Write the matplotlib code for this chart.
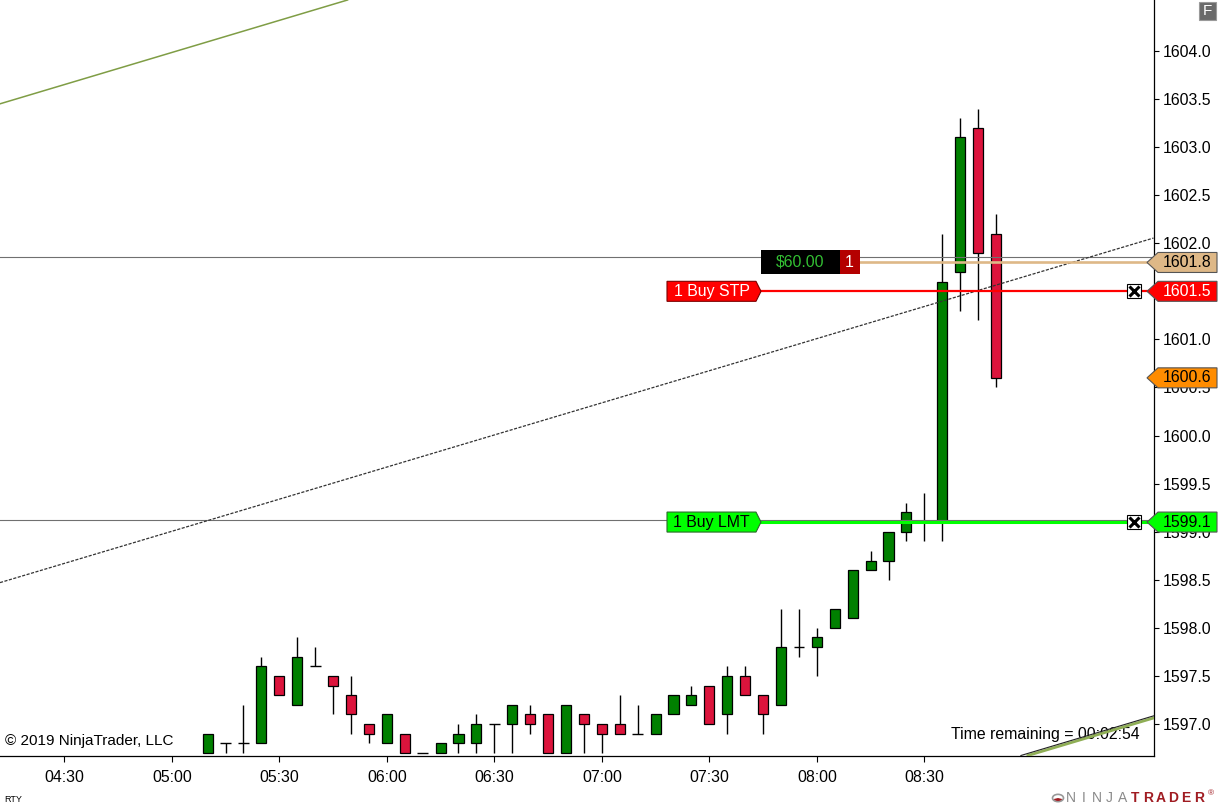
import numpy as np
import matplotlib
matplotlib.use("Agg")
import matplotlib.pyplot as plt
from matplotlib.patches import Polygon, Rectangle, Circle, Wedge
from matplotlib.transforms import blended_transform_factory

plt.rcParams['font.family'] = ['Liberation Sans', 'DejaVu Sans']

# 5 minute bars (RTY)
bar_times = ["05:10", "05:15", "05:20", "05:25", "05:30", "05:35", "05:40", "05:45", "05:50", "05:55",
             "06:00", "06:05", "06:10", "06:15", "06:20", "06:25", "06:30", "06:35", "06:40", "06:45",
             "06:50", "06:55", "07:00", "07:05", "07:10", "07:15", "07:20", "07:25", "07:30", "07:35",
             "07:40", "07:45", "07:50", "07:55", "08:00", "08:05", "08:10", "08:15", "08:20", "08:25",
             "08:30", "08:35", "08:40", "08:45", "08:50"]
opens = [1596.7, 1596.8, 1596.8, 1596.8, 1597.5, 1597.2, 1597.6, 1597.5, 1597.3, 1597.0,
         1596.8, 1596.9, 1596.7, 1596.7, 1596.8, 1596.8, 1597.0, 1597.0, 1597.1, 1597.1,
         1596.7, 1597.1, 1597.0, 1597.0, 1596.9, 1596.9, 1597.1, 1597.2, 1597.4, 1597.1,
         1597.5, 1597.3, 1597.2, 1597.8, 1597.8, 1598.0, 1598.1, 1598.6, 1598.7, 1599.0,
         1599.1, 1599.1, 1601.7, 1603.2, 1602.1]
highs = [1596.9, 1596.8, 1597.2, 1597.7, 1597.5, 1597.9, 1597.8, 1597.5, 1597.5, 1597.0,
         1597.1, 1596.9, 1596.7, 1596.8, 1597.0, 1597.1, 1597.0, 1597.2, 1597.2, 1597.1,
         1597.2, 1597.1, 1597.0, 1597.3, 1597.2, 1597.1, 1597.3, 1597.4, 1597.4, 1597.6,
         1597.6, 1597.3, 1598.2, 1598.2, 1598.0, 1598.2, 1598.6, 1598.8, 1599.0, 1599.3,
         1599.4, 1602.1, 1603.3, 1603.4, 1602.3]
lows = [1596.7, 1596.7, 1596.7, 1596.8, 1597.3, 1597.2, 1597.6, 1597.1, 1596.9, 1596.8,
        1596.8, 1596.7, 1596.7, 1596.7, 1596.7, 1596.7, 1596.7, 1596.7, 1596.9, 1596.7,
        1596.7, 1596.7, 1596.7, 1596.9, 1596.9, 1596.9, 1597.1, 1597.2, 1597.0, 1596.9,
        1597.3, 1596.9, 1597.2, 1597.7, 1597.5, 1598.0, 1598.1, 1598.6, 1598.5, 1598.9,
        1598.9, 1598.9, 1601.3, 1601.2, 1600.5]
closes = [1596.9, 1596.8, 1596.8, 1597.6, 1597.3, 1597.7, 1597.6, 1597.4, 1597.1, 1596.9,
          1597.1, 1596.7, 1596.7, 1596.8, 1596.9, 1597.0, 1597.0, 1597.2, 1597.0, 1596.7,
          1597.2, 1597.0, 1596.9, 1596.9, 1596.9, 1597.1, 1597.3, 1597.3, 1597.0, 1597.5,
          1597.3, 1597.1, 1597.8, 1597.8, 1597.9, 1598.2, 1598.6, 1598.7, 1599.0, 1599.2,
          1599.1, 1601.6, 1603.1, 1601.9, 1600.6]

tick_times = ["04:30", "05:00", "05:30", "06:00", "06:30", "07:00", "07:30", "08:00", "08:30"]
price_ticks = [1597.0, 1597.5, 1598.0, 1598.5, 1599.0, 1599.5, 1600.0, 1600.5,
               1601.0, 1601.5, 1602.0, 1602.5, 1603.0, 1603.5, 1604.0]

# trend channel drawing (middle line + equal offset up/down)
channel_times = ["04:30", "09:30"]
channel_mid = [1598.67, 1602.01]
channel_offset = 4.98

gray_levels = [1601.86, 1599.12]
avg_price = 1601.8
stop_price = 1601.5
last_price = 1600.6
limit_price = 1599.1
pnl_text = "$60.00"
position_qty = "1"
time_left = "00:02:54"

FS = 11.4


def to_idx(t):
    h, m = t.split(":")
    return (int(h) * 60 + int(m) - 270) / 5.0


W, H = 1218, 808
AX_W, AX_H = 1153.5, 755.5
fig = plt.figure(figsize=(W / 100, H / 100), dpi=100)
ax = fig.add_axes([0, 1 - AX_H / H, AX_W / W, AX_H / H])
ax.set_xlim(-3.589, 60.79)
ax.set_ylim(1596.672, 1604.530)
PPU = AX_H / (1604.530 - 1596.672)   # pixels per price unit

tr = blended_transform_factory(ax.transAxes, ax.transData)


def fx(px):
    return px / AX_W


def ph(px):
    return px / PPU


# candles
x = np.array([to_idx(t) for t in bar_times])
o = np.array(opens)
h = np.array(highs)
l = np.array(lows)
c = np.array(closes)
ax.vlines(x, l, h, color="black", lw=1.0, zorder=2)
body_lo = np.minimum(o, c)
body_h = np.abs(c - o)
has_body = body_h > 1e-9
cols = np.where(c >= o, "#008000", "#DC143C")
ax.bar(x[has_body], body_h[has_body], bottom=body_lo[has_body], width=0.56,
       color=cols[has_body], edgecolor="black", lw=0.9, zorder=3)
ax.hlines(o[~has_body], x[~has_body] - 0.3, x[~has_body] + 0.3, color="black", lw=1.0, zorder=3)

# channel
cx = [to_idx(t) for t in channel_times]
ax.axline((cx[0], channel_mid[0]), (cx[1], channel_mid[1]), color="#333333",
          lw=0.9, ls=(0, (2.5, 1.2)), zorder=5)
ax.axline((cx[0], channel_mid[0] + channel_offset), (cx[1], channel_mid[1] + channel_offset),
          color="#7f9d45", lw=1.1, zorder=5)
ax.axline((cx[0], channel_mid[0] - channel_offset - 0.012), (cx[1], channel_mid[1] - channel_offset - 0.012),
          color="#8fae55", lw=2.0, zorder=5)
ax.axline((cx[0], channel_mid[0] - channel_offset + 0.01), (cx[1], channel_mid[1] - channel_offset + 0.01),
          color="#222222", lw=0.8, zorder=5)

# horizontal lines
for g in gray_levels:
    ax.axhline(g, color="#707070", lw=0.8, zorder=4)

# order lines
ax.plot([fx(859.5), 1], [avg_price, avg_price], transform=tr, color="#DEB887", lw=1.9, zorder=6)
ax.plot([fx(760), 1], [stop_price, stop_price], transform=tr, color="#FF0000", lw=1.6, zorder=6)
ax.plot([fx(760), 1], [limit_price, limit_price], transform=tr, color="#00FF00", lw=2.2, zorder=6)


def tag_right(x0, x1, price, fc, ec, text, tc):
    hh = ph(10)
    tip = 5
    pts = [(fx(x0), price - hh), (fx(x1 - tip), price - hh), (fx(x1), price),
           (fx(x1 - tip), price + hh), (fx(x0), price + hh)]
    ax.add_patch(Polygon(pts, closed=True, transform=tr, fc=fc, ec=ec, lw=0.8, zorder=8))
    ax.text(fx((x0 + x1 - tip) / 2), price, text, transform=tr, ha="center", va="center",
            color=tc, fontsize=FS, zorder=9)


tag_right(667, 761, stop_price, "#FF0000", "#7a0000", "1 Buy STP", "white")
tag_right(667, 761, limit_price, "#00FF00", "#2a6a2a", "1 Buy LMT", "black")

# PnL box
ax.add_patch(Rectangle((fx(761), avg_price - ph(12)), fx(840) - fx(761), ph(24),
                       transform=tr, fc="black", ec="black", lw=0, zorder=8))
ax.add_patch(Rectangle((fx(840), avg_price - ph(12)), fx(859.5) - fx(840), ph(24),
                       transform=tr, fc="#B40000", ec="#B40000", lw=0, zorder=8))
ax.text(fx(800), avg_price, pnl_text, transform=tr, ha="center", va="center",
        color="#33C033", fontsize=FS, zorder=9)
ax.text(fx(849.5), avg_price, position_qty, transform=tr, ha="center", va="center",
        color="white", fontsize=FS, zorder=9)

# cancel boxes
for p in [stop_price, limit_price]:
    ax.plot([fx(1134)], [p], transform=tr, marker="s", ms=10, mfc="white", mec="black",
            mew=0.8, zorder=9, clip_on=False)
    ax.plot([fx(1134)], [p], transform=tr, marker="x", ms=6.5, mec="black",
            mew=2.2, zorder=10, clip_on=False)


# price markers on the axis
def tag_left(price, fc, tc):
    hh = ph(10)
    pts = [(fx(1147), price), (fx(1158), price + hh), (fx(1217), price + hh),
           (fx(1217), price - hh), (fx(1158), price - hh)]
    ax.add_patch(Polygon(pts, closed=True, transform=tr, fc=fc, ec="#555555", lw=0.8,
                         zorder=12, clip_on=False))
    ax.text(fx(1163), price, f"{price:.1f}", transform=tr, ha="left", va="center",
            color=tc, fontsize=FS, zorder=13, clip_on=False)


tag_left(avg_price, "#DEB887", "black")
tag_left(stop_price, "#FF0000", "white")
tag_left(last_price, "#FF8C00", "black")
tag_left(limit_price, "#00FF00", "black")

# axes styling
for s in ["left", "top"]:
    ax.spines[s].set_visible(False)
for s in ["right", "bottom"]:
    ax.spines[s].set_color("black")
    ax.spines[s].set_linewidth(0.9)
ax.yaxis.tick_right()
ax.set_yticks(price_ticks)
ax.set_yticklabels([f"{p:.1f}" for p in price_ticks])
ax.set_xticks([to_idx(t) for t in tick_times])
ax.set_xticklabels(tick_times)
ax.tick_params(axis="y", direction="out", length=3.6, width=0.8, pad=3, labelsize=FS, colors="black")
ax.tick_params(axis="x", direction="out", length=4.2, width=0.8, pad=6.5, labelsize=FS, colors="black")

# texts
ax.text(fx(5), 1 - 740.5 / AX_H, "\u00a9 2019 NinjaTrader, LLC", transform=ax.transAxes,
        ha="left", va="center", fontsize=11, zorder=1)
ax.text(fx(1140), 1 - 734 / AX_H, f"Time remaining = {time_left}", transform=ax.transAxes,
        ha="right", va="center", fontsize=FS, zorder=1)
fig.text(4 / W, 1 - 799 / H, "RTY", fontsize=6.5, ha="left", va="center")

# "F" button
fig.patches.append(Rectangle((1199 / W, 1 - 20 / H), 17 / W, 18 / H, transform=fig.transFigure,
                             fc="#6a6a6a", ec="#9a9a9a", lw=0.8))
fig.text(1207.5 / W, 1 - 11 / H, "F", color="white", fontsize=11, ha="center", va="center")

# logo
fig.patches.append(Circle((1058 / W, 1 - 798 / H), 5.5 / W, transform=fig.transFigure,
                          fc="white", ec="#999999", lw=1.2))
fig.patches.append(Wedge((1058 / W, 1 - 798 / H), 4.5 / W, 200, 340, transform=fig.transFigure,
                         fc="#a01c22", ec="none"))
letters = "NINJATRADER"
for i, ch in enumerate(letters):
    col = "#8a8a8a" if i < 5 else "#a01c22"
    fig.text((1071 + i * 12.8) / W, 1 - 798 / H, ch, color=col, fontsize=10,
             ha="center", va="center", fontweight="bold" if i >= 5 else "normal")
fig.text(1211 / W, 1 - 794 / H, "\u00ae", color="#a01c22", fontsize=6, ha="center", va="center")

fig.savefig("out.png", dpi=100, facecolor="white")
